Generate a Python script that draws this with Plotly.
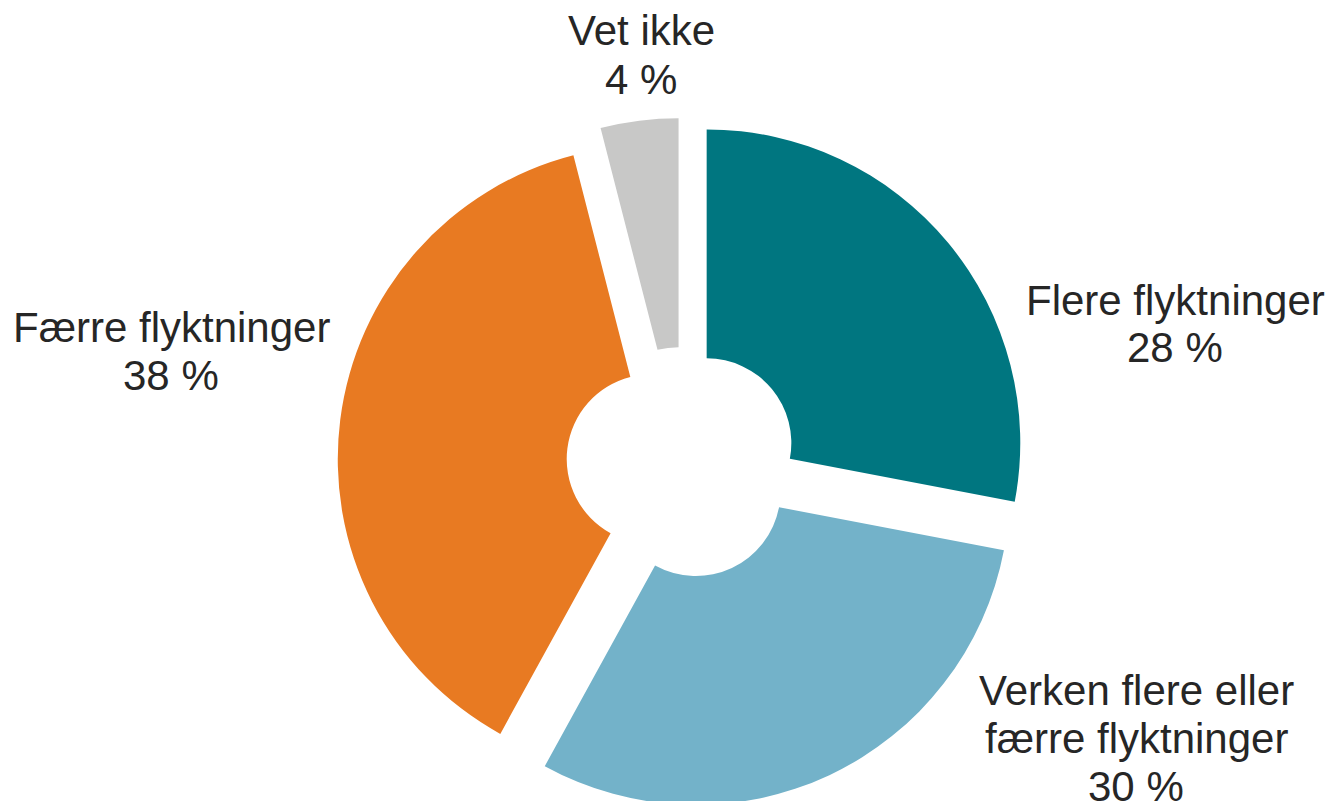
import plotly.graph_objects as go

labels = ["Flere flyktninger", "Verken flere eller<br>færre flyktninger", "Færre flyktninger", "Vet ikke"]
values = [28, 30, 38, 4]
colors = ["#007680", "#73b2c9", "#e87a22", "#c8c8c7"]

W, H = 1333, 801
# label block positions in pixels: (center x, first line center y)
label_pos = [(1167, 292), (1128, 682), (163, 319), (633, 23)]
line_gap = 48

fig = go.Figure(go.Pie(
    labels=labels,
    values=values,
    marker=dict(colors=colors, line=dict(width=0)),
    hole=0.27,
    pull=[0.1, 0.1, 0.1, 0.1],
    sort=False,
    direction="clockwise",
    rotation=0,
    textinfo="none",
    hoverinfo="label+percent",
    domain=dict(x=[0.2472, 0.7648], y=[0.00125, 0.8627]),
    showlegend=False,
))

for lab, val, (px, py) in zip(labels, values, label_pos):
    lines = lab.split("<br>") + [f"{val} %"]
    for i, line in enumerate(lines):
        fig.add_annotation(
            x=px / W, y=1 - (py + i * line_gap) / H, xref="paper", yref="paper",
            text=line, showarrow=False,
            font=dict(family="Liberation Sans, Arial", size=42, color="#262626"),
            align="center", xanchor="center", yanchor="middle",
        )

fig.update_layout(
    width=W, height=H,
    margin=dict(l=0, r=0, t=0, b=0),
    paper_bgcolor="white", plot_bgcolor="white",
)

fig.write_html("out.html")
